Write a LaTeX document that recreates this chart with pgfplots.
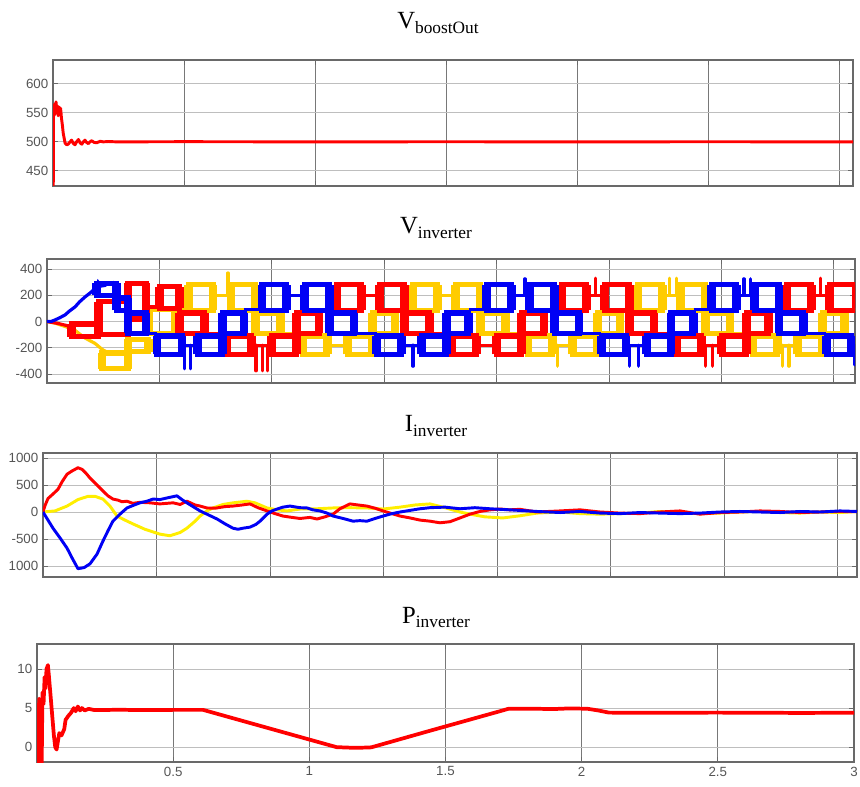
\documentclass[border=0pt]{standalone}
\usepackage{fontspec}
\setmainfont{Liberation Serif}
\newfontfamily\tickfont{Liberation Sans}
\usepackage{pgfplots}
\pgfplotsset{compat=1.18}

\definecolor{vred}{RGB}{255,0,0}
\definecolor{vblue}{RGB}{0,0,245}
\definecolor{vgold}{RGB}{255,204,0}
\definecolor{iyel}{RGB}{255,238,0}
\definecolor{tickgray}{RGB}{85,85,85}
\definecolor{vgrid}{RGB}{120,120,120}
\definecolor{hgrid}{RGB}{190,190,190}
\definecolor{frame}{RGB}{105,105,105}

% common look of the four scope panels
\pgfplotsset{panel/.style={
  scale only axis, anchor=south west,
  xmin=0, xtick={0.5,1,1.5,2,2.5,3,3.5}, xticklabels={},
  xmajorgrids, ymajorgrids,
  x grid style={vgrid, line width=0.6pt},
  y grid style={hgrid, line width=0.6pt},
  tick align=inside, major tick length=3.5pt,
  tick style={frame, line width=0.6pt},
  axis line style={frame, line width=0.8pt},
  ticklabel style={font=\tickfont\fontsize{10}{12}\selectfont, text=tickgray},
}}

% switching band between two levels: heavy frame whose sides are the dense
% switching edges; a flat level; a single spike
\newcommand\blk[5]{%
  \addplot[draw=#1, line width=4pt, line join=miter]
    coordinates {(#2,#4)(#3,#4)(#3,#5)(#2,#5)(#2,#4)(#3,#4)};
  \addplot[draw=#1, line width=6.5pt] coordinates {(#2,#4)(#2,#5)};
  \addplot[draw=#1, line width=6.5pt] coordinates {(#3,#4)(#3,#5)};}
\newcommand\flt[4]{\addplot[#1, line width=2.4pt] coordinates {(#2,#4)(#3,#4)};}
\newcommand\spk[4]{\addplot[#1, line width=2.4pt, line cap=round] coordinates {(#2,#3)(#2,#4)};}

\newcommand\ttl[2]{{\fontsize{18.5}{20}\selectfont #1}{\fontsize{13}{14}\selectfont\raisebox{-3.5pt}{#2}}}

\begin{document}
\begin{tikzpicture}
\path[use as bounding box] (0,0) rectangle (645pt,589.5pt);

% ---------------- boost converter output voltage ----------------
\node[anchor=base] at (328.5pt,567.75pt) {\ttl{V}{boostOut}};
\begin{axis}[panel, at={(39.75pt,450pt)}, width=600pt, height=94.5pt,
  xmax=3.053, ymin=424, ymax=641,
  ytick={450,500,550,600}, yticklabels={450,500,550,600}]
\addplot[vred, line width=2.2pt, line join=round] coordinates {
(0,400)(0.001,420)(0.002,555)(0.004,545)(0.006,565)(0.008,548)(0.0115,569)
(0.014,550)(0.017,562)(0.020,545)(0.023,560)(0.026,548)(0.029,558)(0.032,542)
(0.036,528)(0.039,515)(0.046,498)(0.052,495)(0.058,496)(0.065,500)(0.071,503)
(0.078,497)(0.084,495)(0.090,500)(0.097,504)(0.104,498)(0.110,496)(0.116,500)
(0.122,503)(0.128,499)(0.135,497)(0.141,500)(0.148,502)(0.157,499)(0.167,498.5)
(0.180,501)(0.192,500)(0.210,500.6)(0.243,500)(0.5,500.3)(1.0,500)(1.5,500.2)
(2.0,500)(2.5,500.2)(3.053,500)};
\end{axis}

% ---------------- inverter phase voltages ----------------
\node[anchor=base] at (327pt,414pt) {\ttl{V}{inverter}};
\begin{axis}[panel, at={(35.25pt,302.25pt)}, width=606pt, height=93pt,
  xmax=3.594, ymin=-468, ymax=476,
  ytick={-400,-200,0,200,400}, yticklabels={-400,-200,0,200,400}]
% phase b (yellow)
\addplot[vgold, line width=2.4pt] coordinates {(0,0)(0.036,-12)(0.058,-25)(0.080,-37)
 (0.10,-50)(0.125,-67)(0.145,-95)(0.169,-125)(0.19,-145)(0.214,-167)(0.245,-212)(0.271,-237)};
\blk{vgold}{0.245}{0.36}{-360}{-240}
\blk{vgold}{0.36}{0.45}{-230}{-135}
\blk{vgold}{0.45}{0.57}{-90}{90}
\flt{vgold}{0.57}{0.628}{90}
\blk{vgold}{0.628}{0.738}{85}{280}
\flt{vgold}{0.738}{0.818}{200}
\blk{vgold}{0.818}{0.928}{85}{280}
\blk{vgold}{0.928}{1.038}{-90}{65}
\flt{vgold}{1.038}{1.138}{-90}
\blk{vgold}{1.138}{1.248}{-250}{-110}
\flt{vgold}{1.248}{1.338}{-180}
\blk{vgold}{1.338}{1.448}{-250}{-110}
\blk{vgold}{1.448}{1.548}{-90}{65}
\flt{vgold}{1.548}{1.628}{90}
\blk{vgold}{1.628}{1.738}{85}{280}
\flt{vgold}{1.738}{1.818}{200}
\blk{vgold}{1.818}{1.928}{85}{280}
\blk{vgold}{1.928}{2.038}{-90}{65}
\flt{vgold}{2.038}{2.138}{-90}
\blk{vgold}{2.138}{2.248}{-250}{-110}
\flt{vgold}{2.248}{2.338}{-180}
\blk{vgold}{2.338}{2.448}{-250}{-110}
\blk{vgold}{2.448}{2.548}{-90}{65}
\flt{vgold}{2.548}{2.628}{90}
\blk{vgold}{2.628}{2.738}{85}{280}
\flt{vgold}{2.738}{2.818}{200}
\blk{vgold}{2.818}{2.928}{85}{280}
\blk{vgold}{2.928}{3.038}{-90}{65}
\flt{vgold}{3.038}{3.138}{-90}
\blk{vgold}{3.138}{3.248}{-250}{-110}
\flt{vgold}{3.248}{3.338}{-180}
\blk{vgold}{3.338}{3.448}{-250}{-110}
\blk{vgold}{3.448}{3.548}{-90}{65}
\flt{vgold}{3.548}{3.60}{90}
\spk{vgold}{0.805}{200}{370}
\spk{vgold}{2.77}{200}{330}
\spk{vgold}{2.80}{200}{330}
\spk{vgold}{2.27}{-180}{-340}
\spk{vgold}{3.27}{-180}{-340}
\spk{vgold}{3.30}{-180}{-340}
% phase a (red)
\addplot[vred, line width=2.4pt] coordinates {(0,0)(0.05,-15)(0.11,-40)};
\blk{vred}{0.11}{0.23}{-115}{-20}
\blk{vred}{0.23}{0.36}{-100}{150}
\blk{vred}{0.36}{0.44}{20}{290}
\flt{vred}{0.44}{0.50}{110}
\blk{vred}{0.50}{0.59}{100}{265}
\blk{vred}{0.59}{0.70}{-90}{65}
\flt{vred}{0.70}{0.80}{-90}
\blk{vred}{0.80}{0.91}{-250}{-110}
\flt{vred}{0.91}{1.00}{-180}
\blk{vred}{1.00}{1.11}{-250}{-110}
\blk{vred}{1.11}{1.21}{-90}{65}
\flt{vred}{1.21}{1.29}{90}
\blk{vred}{1.29}{1.40}{85}{280}
\flt{vred}{1.40}{1.48}{200}
\blk{vred}{1.48}{1.59}{85}{280}
\blk{vred}{1.59}{1.70}{-90}{65}
\flt{vred}{1.70}{1.80}{-90}
\blk{vred}{1.80}{1.91}{-250}{-110}
\flt{vred}{1.91}{2.00}{-180}
\blk{vred}{2.00}{2.11}{-250}{-110}
\blk{vred}{2.11}{2.21}{-90}{65}
\flt{vred}{2.21}{2.29}{90}
\blk{vred}{2.29}{2.40}{85}{280}
\flt{vred}{2.40}{2.48}{200}
\blk{vred}{2.48}{2.59}{85}{280}
\blk{vred}{2.59}{2.70}{-90}{65}
\flt{vred}{2.70}{2.80}{-90}
\blk{vred}{2.80}{2.91}{-250}{-110}
\flt{vred}{2.91}{3.00}{-180}
\blk{vred}{3.00}{3.11}{-250}{-110}
\blk{vred}{3.11}{3.21}{-90}{65}
\flt{vred}{3.21}{3.29}{90}
\blk{vred}{3.29}{3.40}{85}{280}
\flt{vred}{3.40}{3.48}{200}
\blk{vred}{3.48}{3.60}{85}{280}
\spk{vred}{0.93}{-180}{-375}
\spk{vred}{0.96}{-180}{-375}
\spk{vred}{0.98}{-180}{-375}
\spk{vred}{2.93}{-180}{-340}
\spk{vred}{2.96}{-180}{-340}
\spk{vred}{2.44}{200}{330}
\spk{vred}{3.44}{200}{330}
% phase c (blue)
\addplot[vblue, line width=2.4pt] coordinates {(0,0)(0.018,0)(0.036,12)(0.058,30)(0.080,50)
 (0.10,80)(0.125,112)(0.145,150)(0.169,187)(0.19,215)(0.214,250)(0.227,300)(0.24,270)
 (0.258,275)(0.27,290)(0.289,288)(0.30,300)};
\blk{vblue}{0.22}{0.31}{200}{290}
\blk{vblue}{0.31}{0.36}{85}{180}
\blk{vblue}{0.36}{0.44}{-90}{65}
\flt{vblue}{0.44}{0.49}{-90}
\blk{vblue}{0.49}{0.60}{-250}{-110}
\flt{vblue}{0.60}{0.67}{-180}
\blk{vblue}{0.67}{0.78}{-250}{-110}
\blk{vblue}{0.78}{0.876}{-90}{65}
\flt{vblue}{0.876}{0.956}{90}
\blk{vblue}{0.956}{1.066}{85}{280}
\flt{vblue}{1.066}{1.146}{200}
\blk{vblue}{1.146}{1.256}{85}{280}
\blk{vblue}{1.256}{1.366}{-90}{65}
\flt{vblue}{1.366}{1.466}{-90}
\blk{vblue}{1.466}{1.576}{-250}{-110}
\flt{vblue}{1.576}{1.666}{-180}
\blk{vblue}{1.666}{1.776}{-250}{-110}
\blk{vblue}{1.776}{1.876}{-90}{65}
\flt{vblue}{1.876}{1.956}{90}
\blk{vblue}{1.956}{2.066}{85}{280}
\flt{vblue}{2.066}{2.146}{200}
\blk{vblue}{2.146}{2.256}{85}{280}
\blk{vblue}{2.256}{2.366}{-90}{65}
\flt{vblue}{2.366}{2.466}{-90}
\blk{vblue}{2.466}{2.576}{-250}{-110}
\flt{vblue}{2.576}{2.666}{-180}
\blk{vblue}{2.666}{2.776}{-250}{-110}
\blk{vblue}{2.776}{2.876}{-90}{65}
\flt{vblue}{2.876}{2.956}{90}
\blk{vblue}{2.956}{3.066}{85}{280}
\flt{vblue}{3.066}{3.146}{200}
\blk{vblue}{3.146}{3.256}{85}{280}
\blk{vblue}{3.256}{3.366}{-90}{65}
\flt{vblue}{3.366}{3.466}{-90}
\blk{vblue}{3.466}{3.576}{-250}{-110}
\flt{vblue}{3.576}{3.594}{-180}
\spk{vblue}{0.61}{-180}{-360}
\spk{vblue}{0.64}{-180}{-360}
\spk{vblue}{1.628}{-180}{-340}
\spk{vblue}{2.126}{200}{325}
\spk{vblue}{2.59}{-180}{-340}
\spk{vblue}{2.63}{-180}{-340}
\spk{vblue}{3.10}{200}{325}
\spk{vblue}{3.13}{200}{325}
\spk{vblue}{3.59}{-180}{-330}
\end{axis}

% ---------------- inverter phase currents ----------------
\node[anchor=base] at (327pt,265.5pt) {\ttl{I}{inverter}};
\begin{axis}[panel, at={(32.25pt,156.75pt)}, width=610.5pt, height=93pt,
  xmax=3.586, ymin=-1204, ymax=1093,
  ytick={-1000,-500,0,500,1000}, yticklabels={1000,-500,0,500,1000}]
\addplot[iyel, line width=2.2pt, line join=round] coordinates {
(0,0)(0.053,20)(0.106,110)(0.154,230)(0.198,290)(0.229,290)(0.264,240)(0.295,110)
(0.326,-75)(0.361,-150)(0.396,-220)(0.449,-320)(0.515,-410)(0.559,-440)(0.604,-380)
(0.634,-300)(0.670,-170)(0.692,-75)(0.722,20)(0.749,75)(0.793,140)(0.837,170)
(0.899,200)(0.934,170)(0.987,75)(1.031,40)(1.075,20)(1.132,55)(1.207,60)(1.278,75)
(1.352,80)(1.427,75)(1.498,55)(1.573,90)(1.639,130)(1.705,150)(1.771,80)(1.837,0)
(1.881,-40)(1.947,-90)(2.026,-110)(2.101,-70)(2.176,-20)(2.278,0)(2.366,-30)
(2.454,-40)(2.542,-30)(2.630,-20)(2.718,10)(2.806,-20)(2.894,-30)(2.982,-20)
(3.070,0)(3.159,10)(3.247,-10)(3.335,-20)(3.423,0)(3.511,-10)(3.586,10)};
\addplot[vred, line width=2.2pt, line join=round] coordinates {
(0,0)(0.009,120)(0.022,250)(0.044,333)(0.066,420)(0.084,560)(0.106,700)(0.128,760)
(0.154,820)(0.172,790)(0.189,720)(0.207,630)(0.233,520)(0.264,390)(0.286,300)
(0.308,240)(0.330,220)(0.348,190)(0.370,200)(0.396,160)(0.427,180)(0.471,170)
(0.515,150)(0.573,170)(0.604,140)(0.634,200)(0.670,130)(0.692,110)(0.722,75)
(0.758,70)(0.802,100)(0.837,110)(0.877,130)(0.912,150)(0.947,80)(0.987,20)
(1.022,-30)(1.057,-75)(1.097,-100)(1.132,-120)(1.176,-100)(1.207,-130)(1.242,-90)
(1.278,-40)(1.308,60)(1.352,150)(1.388,130)(1.427,110)(1.463,70)(1.498,20)
(1.537,-30)(1.573,-75)(1.617,-110)(1.661,-150)(1.705,-170)(1.749,-200)(1.793,-180)
(1.837,-110)(1.881,-40)(1.925,10)(1.969,40)(2.013,55)(2.057,40)(2.101,50)(2.176,0)
(2.278,20)(2.366,40)(2.454,0)(2.542,-20)(2.630,-30)(2.718,0)(2.806,20)(2.894,-40)
(2.982,-10)(3.070,0)(3.159,20)(3.247,10)(3.335,-10)(3.423,0)(3.511,10)(3.586,5)};
\addplot[vblue, line width=2.2pt, line join=round] coordinates {
(0,0)(0.022,-150)(0.044,-300)(0.075,-480)(0.106,-670)(0.128,-850)(0.154,-1050)
(0.181,-1030)(0.207,-960)(0.238,-780)(0.264,-540)(0.286,-350)(0.308,-170)(0.339,-40)
(0.370,75)(0.396,120)(0.427,170)(0.458,200)(0.485,240)(0.515,230)(0.546,260)
(0.568,280)(0.590,300)(0.612,230)(0.634,170)(0.661,100)(0.692,20)(0.727,-50)
(0.767,-130)(0.802,-220)(0.837,-300)(0.859,-320)(0.881,-300)(0.912,-280)(0.938,-230)
(0.956,-170)(0.987,-40)(1.009,20)(1.031,55)(1.057,90)(1.088,110)(1.132,80)(1.163,75)
(1.189,40)(1.220,20)(1.251,-20)(1.278,-75)(1.322,-120)(1.366,-170)(1.396,-160)
(1.427,-170)(1.463,-120)(1.498,-75)(1.537,-30)(1.573,0)(1.617,30)(1.661,60)(1.705,80)
(1.771,90)(1.837,60)(1.903,80)(1.969,60)(2.057,40)(2.176,10)(2.278,-10)(2.366,10)
(2.454,-20)(2.542,-30)(2.630,-10)(2.718,-20)(2.806,-30)(2.894,-20)(2.982,0)(3.070,10)
(3.159,0)(3.247,-10)(3.335,10)(3.423,0)(3.511,20)(3.586,10)};
\end{axis}

% ---------------- inverter output power ----------------
\node[anchor=base] at (327pt,122.25pt) {\ttl{P}{inverter}};
\begin{axis}[panel, at={(27.75pt,18pt)}, width=612.75pt, height=88.5pt,
  xmax=3, ymin=-1.9, ymax=13.2,
  xtick={0.5,1,1.5,2,2.5,3}, xticklabels={0.5,1,1.5,2,2.5,3},
  ytick={0,5,10}, yticklabels={0,5,10}]
\addplot[vred, line width=2.8pt, line join=round] coordinates {
(0.001,0)(0.004,-3)(0.008,6.2)(0.011,5)(0.013,-3)(0.017,-3)(0.020,7)(0.024,5.5)
(0.028,9)(0.031,7.5)(0.035,10)(0.040,10.5)(0.044,9)(0.050,6.5)(0.056,4)(0.062,1.5)
(0.067,0)(0.072,-0.3)(0.077,0.8)(0.082,1.8)(0.090,1.5)(0.095,1.9)(0.100,2.3)
(0.105,3.5)(0.115,4)(0.125,4.4)(0.135,5)(0.142,4.6)(0.150,5.2)(0.158,4.7)(0.165,5)
(0.175,4.7)(0.190,4.9)(0.210,4.75)(0.30,4.78)(0.40,4.75)(0.50,4.77)(0.61,4.77)
(0.843,2.5)(1.10,0)(1.16,-0.08)(1.22,-0.05)(1.23,0)(1.443,2.1)(1.70,4.6)(1.73,4.9)
(1.80,4.92)(1.90,4.88)(1.95,4.95)(2.02,4.92)(2.06,4.7)(2.10,4.42)(2.20,4.4)(2.50,4.42)
(2.80,4.38)(3.0,4.4)};
\end{axis}
\end{tikzpicture}
\end{document}
